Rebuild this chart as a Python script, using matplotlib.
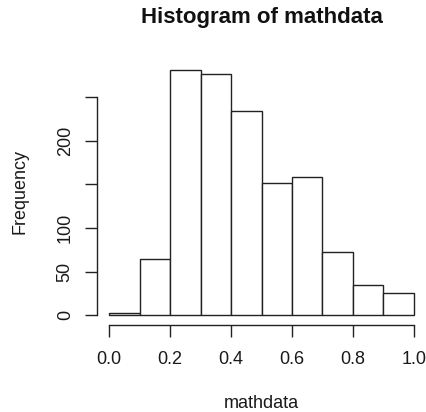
import matplotlib
matplotlib.use("Agg")
import matplotlib.pyplot as plt
import numpy as np

# Histogram counts per 0.1-wide bin
bin_edges = [0.0, 0.1, 0.2, 0.3, 0.4, 0.5, 0.6, 0.7, 0.8, 0.9, 1.0]
counts = [3, 64, 281, 277, 234, 152, 158, 73, 35, 26]

x_ticks = [0.0, 0.2, 0.4, 0.6, 0.8, 1.0]
x_tick_labels = ["0.0", "0.2", "0.4", "0.6", "0.8", "1.0"]
y_ticks = [0, 50, 100, 150, 200, 250]
y_tick_labels = ["0", "50", "100", "", "200", ""]

plt.rcParams["font.family"] = ["Liberation Sans", "DejaVu Sans"]

W, H = 426, 412
fig = plt.figure(figsize=(W / 100, H / 100), dpi=100)
left_px, right_px, top_px, bottom_px = 97.1, 426.0, 60.5, 325.0
ax = fig.add_axes([left_px / W, 1 - bottom_px / H,
                   (right_px - left_px) / W, (bottom_px - top_px) / H])

edges = np.array(bin_edges)
ax.bar(edges[:-1], counts, width=np.diff(edges), align="edge",
       facecolor="white", edgecolor="#222222", linewidth=1.0)

ymax = max(counts)
ax.set_xlim(-0.04, 1.04)
ax.set_ylim(-0.04 * ymax, 1.04 * ymax)

for side in ["top", "right"]:
    ax.spines[side].set_visible(False)
ax.spines["left"].set_bounds(0, 250)
ax.spines["bottom"].set_bounds(0, 1)
for side in ["left", "bottom"]:
    ax.spines[side].set_linewidth(1.0)
    ax.spines[side].set_color("#222222")

ax.set_xticks(x_ticks)
ax.set_xticklabels(x_tick_labels)
ax.set_yticks(y_ticks)
ax.set_yticklabels(y_tick_labels, rotation=90, va="center")
ax.tick_params(axis="both", direction="out", length=8.8, width=1.0,
               color="#222222", labelsize=13, labelcolor="#1a1a1a")
ax.tick_params(axis="x", pad=10)
ax.tick_params(axis="y", pad=8)

fig.text(261.5 / W, 1 - 23.5 / H, "Histogram of mathdata",
         ha="center", va="baseline", fontsize=16, fontweight="bold",
         color="#111111")
fig.text(261.5 / W, 1 - 404 / H, "mathdata", ha="center", va="center",
         fontsize=13, color="#1a1a1a")
fig.text(20 / W, 1 - 192 / H, "Frequency", ha="center", va="center",
         rotation=90, fontsize=13, color="#1a1a1a")

fig.savefig("out.png", dpi=100)
